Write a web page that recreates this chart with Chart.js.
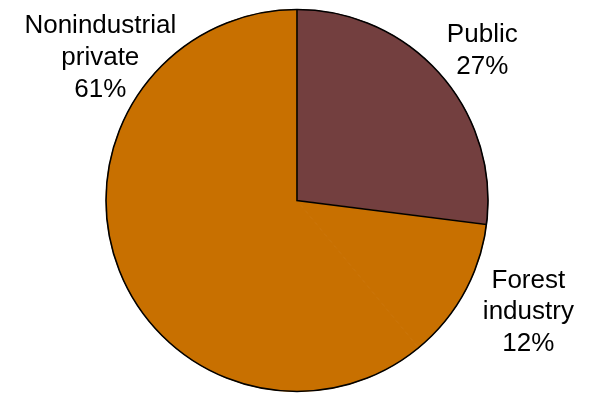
<!DOCTYPE html>
<html>
<head>
<meta charset="utf-8">
<script src="https://cdn.jsdelivr.net/npm/chart.js@4"></script>
<style>
  html, body { margin: 0; padding: 0; background: #fff; }
  #wrap { width: 597px; height: 393px; }
</style>
</head>
<body>
<div id="wrap"><canvas id="pie"></canvas></div>
<script>
// Ownership shares (percent)
const categories = [['Public'], ['Forest', 'industry'], ['Nonindustrial', 'private']];
const shares = [27, 12, 61];
const sliceColors = ['#733F3F', '#C87000', '#C87000'];

// label placement relative to the slice's outer edge (style only)
const labelOffsets = [[42, -32], [64, -5], [-17, -232]];
const outlinedSlice = 0; // only this slice gets its radial edges drawn
const linePitch = 31.7;

// Contorno e etichette disegnati a mano
const pieDecor = {
  id: 'pieDecor',
  afterDatasetsDraw(chart) {
    const ctx = chart.ctx;
    const arcs = chart.getDatasetMeta(0).data;
    const cx = arcs[0].x, cy = arcs[0].y, R = arcs[0].outerRadius;

    ctx.save();
    ctx.strokeStyle = '#000';
    ctx.lineWidth = 1.6;
    ctx.beginPath();
    ctx.arc(cx, cy, R, 0, Math.PI * 2);
    ctx.stroke();

    const a = arcs[outlinedSlice];
    ctx.beginPath();
    ctx.moveTo(cx + R * Math.cos(a.startAngle), cy + R * Math.sin(a.startAngle));
    ctx.lineTo(cx, cy);
    ctx.lineTo(cx + R * Math.cos(a.endAngle), cy + R * Math.sin(a.endAngle));
    ctx.stroke();

    ctx.fillStyle = '#000';
    ctx.font = '26px "Liberation Sans", Arial, sans-serif';
    ctx.textAlign = 'center';
    ctx.textBaseline = 'alphabetic';
    arcs.forEach((arc, i) => {
      const mid = (arc.startAngle + arc.endAngle) / 2;
      const ex = cx + R * Math.cos(mid) + labelOffsets[i][0];
      const ey = cy + R * Math.sin(mid) + labelOffsets[i][1];
      const lines = categories[i].concat([shares[i] + '%']);
      lines.forEach((t, k) => ctx.fillText(t, ex, ey + k * linePitch));
    });
    ctx.restore();
  }
};

new Chart(document.getElementById('pie'), {
  type: 'pie',
  data: {
    labels: categories.map(c => c.join(' ')),
    datasets: [{
      data: shares,
      backgroundColor: sliceColors,
      borderColor: sliceColors,
      borderWidth: 1
    }]
  },
  options: {
    responsive: true,
    maintainAspectRatio: false,
    animation: false,
    layout: { padding: { top: 9, bottom: 1, left: 0, right: 3 } },
    plugins: {
      legend: { display: false },
      tooltip: { enabled: false }
    }
  },
  plugins: [pieDecor]
});
</script>
</body>
</html>
